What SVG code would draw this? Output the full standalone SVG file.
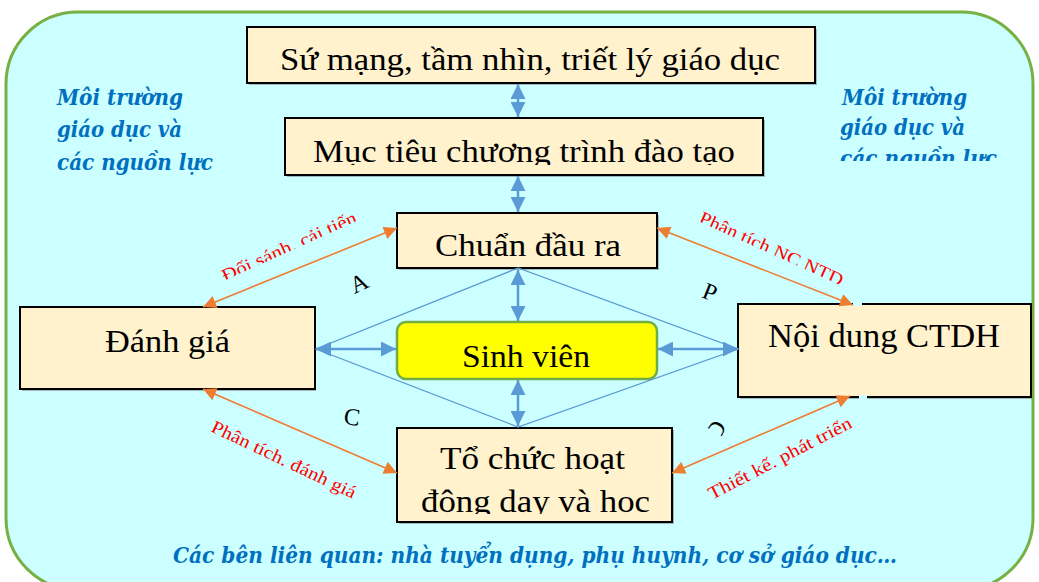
<svg xmlns="http://www.w3.org/2000/svg" width="1039" height="582" viewBox="0 0 1039 582">
  <style>
    .box { fill: #fff2cc; stroke: #000; stroke-width: 2; }
    .shadow { fill: #7f7f7f; opacity: 0.55; }
    .t { font-family: "Liberation Serif", "Times New Roman", serif; fill: #000; }
    .env { font-family: "DejaVu Serif", "Liberation Serif", serif; font-style: italic; font-weight: bold; fill: #0070c0; font-size: 23px; }
    .red { font-family: "Liberation Serif", "Times New Roman", serif; fill: #ff0000; font-size: 18px; }
    .letter { font-family: "Liberation Serif", "Times New Roman", serif; fill: #000; font-size: 24px; text-anchor: middle; }
    .blue { stroke: #5b9bd5; stroke-width: 2.5; fill: none; marker-start: url(#bhead); marker-end: url(#bhead); }
    .orange { stroke: #ed7d31; stroke-width: 1.6; fill: none; marker-start: url(#ohead); marker-end: url(#ohead); }
  </style>
  <defs>
    <marker id="bhead" viewBox="0 0 10 10" refX="10" refY="5" markerUnits="userSpaceOnUse" markerWidth="15" markerHeight="15" orient="auto-start-reverse">
      <path d="M0,0 L10,5 L0,10 z" fill="#5b9bd5"/>
    </marker>
    <marker id="ohead" viewBox="0 0 10 10" refX="10" refY="5" markerUnits="userSpaceOnUse" markerWidth="16" markerHeight="13" orient="auto-start-reverse">
      <path d="M0,0 L10,5 L0,10 z" fill="#ed7d31"/>
    </marker>
    <clipPath id="clipGoal"><rect x="280" y="110" width="500" height="55"/></clipPath>
    <clipPath id="clipOrg"><rect x="398" y="480" width="272" height="34"/></clipPath>
    <clipPath id="clipEnvR"><rect x="830" y="80" width="190" height="81"/></clipPath>
    <clipPath id="clipCut"><rect x="-10" y="-30" width="200" height="28.5"/></clipPath>
    <clipPath id="clipCutP"><rect x="-10" y="-30" width="200" height="29"/></clipPath>
    <clipPath id="clipD"><rect x="-2.5" y="-30" width="30" height="60"/></clipPath>
  </defs>

  <!-- outer frame -->
  <rect x="6" y="12" width="1027" height="578" rx="72" fill="#ccffff" stroke="#77b043" stroke-width="3"/>

  <!-- side and bottom captions -->
  <g id="env-left">
    <text class="env" x="57" y="105" textLength="126" lengthAdjust="spacingAndGlyphs">Môi trường</text>
    <text class="env" x="57" y="137" textLength="125" lengthAdjust="spacingAndGlyphs">giáo dục và</text>
    <text class="env" x="57" y="170" textLength="156" lengthAdjust="spacingAndGlyphs">các nguồn lực</text>
  </g>
  <g id="env-right" clip-path="url(#clipEnvR)">
    <text class="env" x="842" y="105" textLength="125" lengthAdjust="spacingAndGlyphs">Môi trường</text>
    <text class="env" x="840" y="135" textLength="125" lengthAdjust="spacingAndGlyphs">giáo dục và</text>
    <text class="env" x="840" y="166" textLength="157" lengthAdjust="spacingAndGlyphs">các nguồn lực</text>
  </g>
  <g id="stakeholders">
    <text class="env" x="173" y="563" font-size="24" textLength="724" lengthAdjust="spacingAndGlyphs">Các bên liên quan: nhà tuyển dụng, phụ huynh, cơ sở giáo dục…</text>
  </g>

  <!-- nodes -->
  <g id="mission">
    <rect class="shadow" x="249" y="29" width="568" height="56"/>
    <rect class="box" x="247" y="27" width="568" height="56"/>
    <text class="t" x="280" y="70" font-size="31" textLength="500" lengthAdjust="spacingAndGlyphs">Sứ mạng, tầm nhìn, triết lý giáo dục</text>
  </g>
  <g id="goals">
    <rect class="shadow" x="287" y="120" width="478" height="57"/>
    <rect class="box" x="285" y="118" width="478" height="57"/>
    <text class="t" x="313" y="162" font-size="31" textLength="422" lengthAdjust="spacingAndGlyphs" clip-path="url(#clipGoal)">Mục tiêu chương trình đào tạo</text>
  </g>
  <g id="outcomes">
    <rect class="shadow" x="399" y="215" width="260" height="55"/>
    <rect class="box" x="397" y="213" width="260" height="55"/>
    <text class="t" x="435" y="256" font-size="31" textLength="186" lengthAdjust="spacingAndGlyphs">Chuẩn đầu ra</text>
  </g>
  <g id="assessment">
    <rect class="shadow" x="22" y="309" width="294" height="82"/>
    <rect class="box" x="20" y="307" width="295" height="82"/>
    <text class="t" x="105" y="352" font-size="32" textLength="125" lengthAdjust="spacingAndGlyphs">Đánh giá</text>
  </g>
  <g id="content">
    <rect class="shadow" x="740" y="306" width="292" height="93"/>
    <rect class="box" x="738" y="304" width="293" height="93"/>
    <text class="t" x="768" y="347" font-size="33" textLength="232" lengthAdjust="spacingAndGlyphs">Nội dung CTDH</text>
  </g>
  <g id="teaching">
    <rect class="shadow" x="399" y="430" width="275" height="94"/>
    <rect class="box" x="397" y="428" width="275" height="94"/>
    <text class="t" x="440" y="469" font-size="31" textLength="185" lengthAdjust="spacingAndGlyphs">Tổ chức hoạt</text>
    <text class="t" x="421" y="512" font-size="31" textLength="229" lengthAdjust="spacingAndGlyphs" clip-path="url(#clipOrg)">động dạy và học</text>
  </g>
  <g id="student">
    <rect x="397" y="322" width="260" height="57" rx="9" fill="#ffff00" stroke="#70ad47" stroke-width="2.5"/>
    <text class="t" x="462" y="367" font-size="32" textLength="128" lengthAdjust="spacingAndGlyphs">Sinh viên</text>
  </g>

  <!-- connectors -->
  <g id="connectors">
    <polygon points="518,268 316,349 518,427 738,349" fill="none" stroke="#5b9bd5" stroke-width="1.3"/>
    <line class="blue" x1="518" y1="84" x2="518" y2="117"/>
    <line class="blue" x1="518" y1="176" x2="518" y2="212"/>
    <line class="blue" x1="518" y1="270" x2="518" y2="321"/>
    <line class="blue" x1="518" y1="380" x2="518" y2="426"/>
    <line class="blue" x1="316" y1="349" x2="396" y2="349"/>
    <line class="blue" x1="658" y1="349" x2="738" y2="349"/>
    <line class="orange" x1="397" y1="228" x2="203" y2="307"/>
    <line class="orange" x1="657" y1="228" x2="853" y2="305"/>
    <line class="orange" x1="203" y1="389" x2="397" y2="473"/>
    <line class="orange" x1="672" y1="473" x2="850" y2="396"/>
    <!-- small gaps in the content box border where the arrows meet -->
    <rect x="853" y="302" width="9" height="4" fill="#ccffff"/>
    <rect x="859" y="395" width="8" height="4" fill="#ccffff"/>
  </g>

  <!-- connector labels -->
  <g id="labels">
    <g transform="translate(225,282) rotate(-24.3)">
      <text class="red" x="0" y="0" textLength="146" lengthAdjust="spacingAndGlyphs" clip-path="url(#clipCut)">Đối sánh, cải tiến</text>
    </g>
    <g transform="translate(698,222) rotate(24.3)">
      <text class="red" x="0" y="0" textLength="156" lengthAdjust="spacingAndGlyphs" clip-path="url(#clipCutP)">Phân tích NC NTD</text>
    </g>
    <g transform="translate(210,431) rotate(25.4)">
      <text class="red" x="0" y="0" textLength="158" lengthAdjust="spacingAndGlyphs">Phân tích. đánh giá</text>
    </g>
    <g transform="translate(712,500) rotate(-27.4)">
      <text class="red" x="0" y="0" textLength="159" lengthAdjust="spacingAndGlyphs">Thiết kế. phát triển</text>
    </g>
    <g transform="translate(359,283) rotate(-25)"><text class="letter" x="0" y="8">A</text></g>
    <g transform="translate(710,292) rotate(22)"><text class="letter" x="0" y="8">P</text></g>
    <g transform="translate(352,417) rotate(8)"><text class="letter" x="0" y="8">C</text></g>
    <g transform="translate(716,430) rotate(-60)"><text class="letter" x="0" y="8" clip-path="url(#clipD)">D</text></g>
  </g>
</svg>
